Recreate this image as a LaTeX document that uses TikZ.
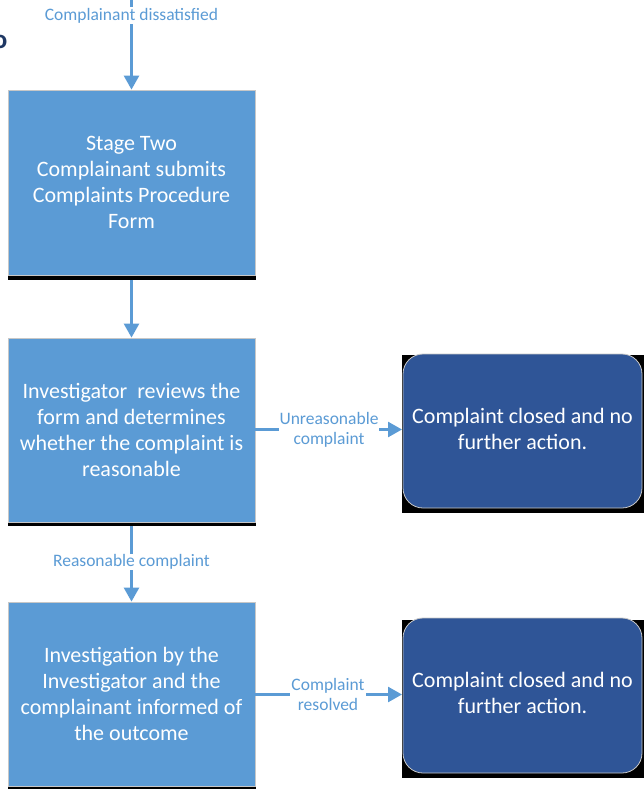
\documentclass[tikz,border=0pt]{standalone}
\usepackage{fontspec}
\setmainfont{Carlito}
\usetikzlibrary{arrows.meta}
\definecolor{boxblue}{HTML}{5B9BD5}
\definecolor{darkbox}{HTML}{2F5597}
\definecolor{labelblue}{HTML}{5B9BD5}
\definecolor{navy}{HTML}{1F3864}
\begin{document}
\begin{tikzpicture}[x=1pt,y=-1pt,
  procbox/.style={draw=black!22,line width=0.8pt,fill=boxblue,text=white,font=\fontsize{22}{26}\selectfont,align=center,inner sep=0pt},
  endbox/.style={draw=black!22,line width=0.8pt,fill=darkbox,text=white,rounded corners=20pt,font=\fontsize{22}{26}\selectfont,align=center,inner sep=0pt},
  lbl/.style={fill=white,text=labelblue,font=\fontsize{17.5}{20}\selectfont,align=center,inner sep=1pt},
  flow/.style={draw=labelblue,line width=2.6pt,-{Triangle[width=15pt,length=14pt]}}]
\useasboundingbox (0,0) rectangle (644,789);
% cut-off heading
\node[anchor=east,text=navy,font=\fontsize{27}{30}\selectfont\bfseries,inner sep=0pt] (head) at (7.5,42) {o};
% shadows
\fill[black] (8,275) rectangle (256,279.5);
\fill[black] (8,522) rectangle (256,526);
\fill[black] (8,786) rectangle (256,789);
\fill[black] (402,355) rectangle (644,513);
\fill[black] (402,620) rectangle (644,778);
% boxes
\node[procbox,minimum width=247pt,minimum height=185pt] (b1) at (131.5,182.5) {Stage Two\\Complainant submits\\Complaints Procedure\\Form};
\node[procbox,minimum width=247pt,minimum height=184pt] (b2) at (131.5,430) {Investigator\ \ reviews the\\form and determines\\whether the complaint is\\reasonable};
\node[procbox,minimum width=247pt,minimum height=184pt] (b3) at (131.5,694) {Investigation by the\\Investigator and the\\complainant informed of\\the outcome};
\node[endbox,minimum width=239pt,minimum height=154pt] (r1) at (522.5,431) {\raisebox{2pt}{\begin{tabular}{@{}c@{}}Complaint closed and no\\[0pt]further action.\end{tabular}}};
\node[endbox,minimum width=239pt,minimum height=155pt] (r2) at (522.5,695.5) {\raisebox{2pt}{\begin{tabular}{@{}c@{}}Complaint closed and no\\[0pt]further action.\end{tabular}}};
% connectors
\coordinate (top) at (131.5,0);
\draw[flow] (top) -- (b1.north);
\node[lbl] (l0) at (131.5,15.5) {Complainant dissatisfied};
\draw[flow] (b1.south) ++(0,4.5) -- (b2.north);
\draw[flow] (b2.south) ++(0,4) -- (b3.north);
\node[lbl] (l1) at (131.5,562) {Reasonable complaint};
\draw[flow] (b2.east |- 0,429.5) -- (402,429.5);
\node[lbl] (l2) at (329,429.5) {Unreasonable\\complaint};
\draw[flow] (b3.east |- 0,694.5) -- (402,694.5);
\node[lbl] (l3) at (328,694) {Complaint\\resolved};
\end{tikzpicture}
\end{document}
